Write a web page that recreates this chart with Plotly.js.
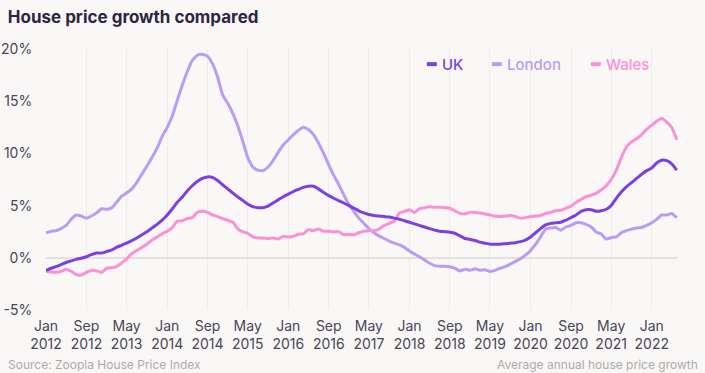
<!DOCTYPE html>
<html>
<head>
<meta charset="utf-8">
<script src="https://cdn.plot.ly/plotly-3.0.1.min.js"></script>
<style>
  html, body { margin: 0; padding: 0; background: #faf8f7; }
  #chart { width: 705px; height: 373px; }
</style>
</head>
<body>
<div id="chart"></div>
<script>
// Monthly annual growth (%), Jan 2012 – Jun 2022
const ukValues = [
  -1.2,-1.0,-0.85,-0.65,-0.45,-0.3,-0.15,-0.05,0.1,0.3,0.45,0.45,
  0.6,0.75,1.0,1.2,1.4,1.65,1.9,2.2,2.5,2.85,3.2,3.6,
  4.1,4.7,5.3,5.8,6.4,6.9,7.3,7.6,7.75,7.7,7.4,7.0,
  6.6,6.2,5.85,5.5,5.15,4.9,4.8,4.8,4.95,5.25,5.55,5.85,
  6.1,6.35,6.55,6.75,6.85,6.85,6.6,6.25,5.95,5.7,5.45,5.25,
  5.0,4.75,4.5,4.3,4.15,4.05,4.0,3.95,3.9,3.8,3.7,3.55,
  3.4,3.25,3.1,2.95,2.8,2.65,2.55,2.5,2.45,2.35,2.1,1.85,
  1.75,1.65,1.5,1.4,1.3,1.3,1.3,1.35,1.4,1.45,1.55,1.7,
  2.0,2.4,2.8,3.15,3.3,3.35,3.4,3.6,3.85,4.1,4.45,4.6,
  4.6,4.45,4.5,4.65,5.0,5.7,6.3,6.8,7.2,7.6,8.0,8.35,
  8.6,9.1,9.35,9.3,9.0,8.4
];
const londonValues = [
  2.4,2.55,2.6,2.8,3.1,3.7,4.1,4.0,3.8,4.0,4.3,4.7,
  4.65,4.8,5.3,5.9,6.2,6.6,7.2,8.0,8.8,9.6,10.5,11.6,
  12.5,13.6,15.0,16.5,17.8,18.9,19.4,19.5,19.3,18.6,17.3,15.6,
  14.8,13.8,12.7,11.2,9.6,8.7,8.4,8.35,8.7,9.3,10.1,10.8,
  11.3,11.8,12.2,12.5,12.3,11.8,11.0,10.0,8.9,7.9,7.0,6.0,
  5.1,4.4,3.8,3.3,2.8,2.4,2.1,1.85,1.6,1.4,1.25,1.0,
  0.65,0.35,0.1,-0.2,-0.5,-0.75,-0.8,-0.8,-0.85,-1.0,-1.25,-1.1,
  -1.2,-1.05,-1.2,-1.15,-1.3,-1.2,-1.0,-0.85,-0.6,-0.35,-0.1,0.25,
  0.7,1.3,2.0,2.75,2.85,2.9,2.65,2.95,3.1,3.35,3.35,3.2,
  2.95,2.45,2.3,1.8,1.95,2.0,2.4,2.6,2.75,2.85,2.9,3.1,
  3.35,3.7,4.1,4.1,4.25,3.85
];
const walesValues = [
  -1.3,-1.35,-1.4,-1.3,-1.1,-1.3,-1.6,-1.65,-1.4,-1.2,-1.25,-1.4,
  -1.0,-0.95,-0.85,-0.5,-0.1,0.4,0.7,1.0,1.3,1.7,2.0,2.3,
  2.55,2.9,3.5,3.55,3.75,3.85,4.35,4.45,4.35,4.1,3.95,3.75,
  3.6,3.4,2.8,2.5,2.35,2.0,1.9,1.9,1.85,1.9,1.8,2.05,
  2.0,2.05,2.25,2.3,2.7,2.6,2.75,2.55,2.55,2.5,2.5,2.2,
  2.25,2.2,2.4,2.55,2.6,2.6,2.75,3.1,3.3,3.5,4.3,4.45,
  4.6,4.35,4.7,4.8,4.9,4.85,4.85,4.8,4.75,4.5,4.25,4.2,
  4.35,4.35,4.3,4.2,4.1,4.0,3.95,4.0,4.05,3.95,3.8,3.85,
  3.95,4.0,4.05,4.25,4.35,4.5,4.55,4.75,4.95,5.3,5.6,5.85,
  6.0,6.2,6.5,6.9,7.5,8.4,9.6,10.6,11.1,11.4,11.8,12.3,
  12.7,13.1,13.35,13.0,12.5,11.3
];
const seriesNames = ['UK', 'London', 'Wales'];
const seriesColors = ['#7b3fe4', '#b89cf6', '#ff8fd4'];
const startYear = 2012;

const tickDates = ['2012-01-01','2012-09-01','2013-05-01','2014-01-01','2014-09-01','2015-05-01',
  '2016-01-01','2016-09-01','2017-05-01','2018-01-01','2018-09-01','2019-05-01',
  '2020-01-01','2020-09-01','2021-05-01','2022-01-01'];
const tickLabels = ['Jan<br>2012','Sep<br>2012','May<br>2013','Jan<br>2014','Sep<br>2014','May<br>2015',
  'Jan<br>2016','Sep<br>2016','May<br>2017','Jan<br>2018','Sep<br>2018','May<br>2019',
  'Jan<br>2020','Sep<br>2020','May<br>2021','Jan<br>2022'];
const yTickVals = [-5, 0, 5, 10, 15, 20];
const yTickLabels = ['-5%', '0%', '5%', '10%', '15%', '20%'];

function monthDate(i) {
  const y = startYear + Math.floor(i / 12);
  const m = (i % 12) + 1;
  return y + '-' + String(m).padStart(2, '0') + '-01';
}
const dates = ukValues.map((_, i) => monthDate(i));

const allValues = [ukValues, londonValues, walesValues];
const order = [1, 2, 0]; // draw UK on top
const traces = order.map(k => ({
  type: 'scatter', mode: 'lines', name: seriesNames[k],
  x: dates, y: allValues[k],
  line: { color: seriesColors[k], width: 3, shape: 'spline', smoothing: 0.4 },
  hoverinfo: 'skip', showlegend: false
}));

const FONT = 'Inter, "Open Sans", sans-serif';
// legend (custom, drawn as text + short line keys)
const legendTextX = [0.6234, 0.7263, 0.8829];
const legendY = 0.942;
const legendKeyLen = 0.0158;
const legendGap = 0.005;
const legendAnnotations = seriesNames.map((n, k) => ({
  xref: 'paper', yref: 'paper', x: legendTextX[k], y: legendY, xanchor: 'left', yanchor: 'middle',
  text: n, showarrow: false,
  font: { family: FONT, size: 15, color: seriesColors[k], weight: 500 }
}));
const legendShapes = seriesNames.map((n, k) => ({
  type: 'line', xref: 'paper', yref: 'paper',
  x0: legendTextX[k] - legendGap - legendKeyLen, x1: legendTextX[k] - legendGap,
  y0: legendY, y1: legendY,
  line: { color: seriesColors[k], width: 4 }
}));

const layout = {
  width: 705, height: 373,
  paper_bgcolor: '#faf8f7', plot_bgcolor: '#faf8f7',
  margin: { l: 46, r: 27, t: 49, b: 63 },
  font: { family: FONT, color: '#4a4458', size: 14 },
  title: {
    text: '<b>House price growth compared</b>',
    x: 0.011, xanchor: 'left', xref: 'container',
    y: 0.955, yanchor: 'middle', yref: 'container',
    font: { family: FONT, size: 17, color: '#2d2640' }
  },
  xaxis: {
    type: 'date',
    range: ['2012-01-01', '2022-06-08'],
    tickvals: tickDates, ticktext: tickLabels,
    showgrid: true, gridcolor: '#eeebea', gridwidth: 1,
    zeroline: false, showline: false,
    ticks: 'outside', ticklen: 3, tickcolor: 'rgba(0,0,0,0)',
    tickfont: { size: 14, color: '#4a4458' }
  },
  yaxis: {
    range: [-5, 20],
    tickvals: yTickVals, ticktext: yTickLabels,
    showgrid: false, zeroline: true, zerolinecolor: '#e4e0df', zerolinewidth: 1.5,
    showline: false,
    ticks: 'outside', ticklen: 10, tickcolor: 'rgba(0,0,0,0)',
    tickfont: { size: 14, color: '#4a4458' }
  },
  shapes: legendShapes,
  annotations: [
    ...legendAnnotations,
    {
      xref: 'paper', yref: 'paper', x: -0.064, y: -0.21, xanchor: 'left', yanchor: 'middle',
      text: 'Source: Zoopla House Price Index', showarrow: false,
      font: { family: FONT, size: 12, color: '#ada9ad' }
    },
    {
      xref: 'paper', yref: 'paper', x: 1.035, y: -0.21, xanchor: 'right', yanchor: 'middle',
      text: 'Average annual house price growth', showarrow: false,
      font: { family: FONT, size: 12, color: '#ada9ad' }
    }
  ]
};

Plotly.newPlot('chart', traces, layout, { displayModeBar: false, staticPlot: true });
</script>
</body>
</html>
